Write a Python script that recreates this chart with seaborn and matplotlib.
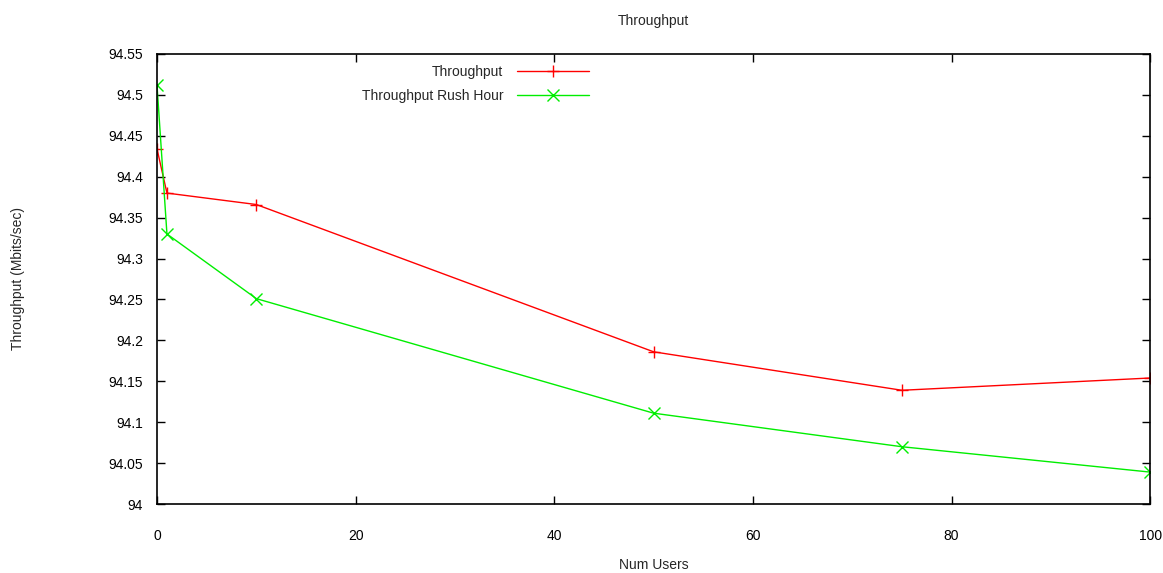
import matplotlib
matplotlib.use("Agg")
import matplotlib.pyplot as plt
import seaborn as sns
import pandas as pd

num_users = [0, 1, 10, 50, 75, 100]
throughput = [94.434, 94.380, 94.366, 94.186, 94.139, 94.154]
throughput_rush = [94.512, 94.330, 94.251, 94.111, 94.070, 94.039]
series_names = ["Throughput", "Throughput Rush Hour"]
x_ticks = [0, 20, 40, 60, 80, 100]
y_ticks = [94, 94.05, 94.1, 94.15, 94.2, 94.25, 94.3, 94.35, 94.4, 94.45, 94.5, 94.55]
y_tick_labels = ["94", "94.05", "94.1", "94.15", "94.2", "94.25", "94.3",
                 "94.35", "94.4", "94.45", "94.5", "94.55"]

df = pd.DataFrame({
    "Num Users": num_users * 2,
    "Throughput": throughput + throughput_rush,
    "Series": [series_names[0]] * len(num_users) + [series_names[1]] * len(num_users),
})

sns.set_style("ticks")
plt.rcParams["font.family"] = ["Liberation Sans", "DejaVu Sans"]

fig = plt.figure(figsize=(11.63, 5.73), dpi=100)
ax = fig.add_axes([0.135, 0.1204, 0.854, 0.7854])

sns.lineplot(data=df, x="Num Users", y="Throughput", hue="Series", style="Series",
             markers={series_names[0]: "+", series_names[1]: "x"}, dashes=False,
             palette={series_names[0]: "#ff0000", series_names[1]: "#00ee00"},
             linewidth=1.0, markersize=8, markeredgewidth=1.0, ax=ax)
for ln in ax.get_lines():
    ln.set_markeredgecolor(ln.get_color())

ax.set_xlim(0, 100)
ax.set_ylim(94, 94.55)
ax.set_xticks(x_ticks)
ax.set_xticklabels([str(t) for t in x_ticks])
ax.set_yticks(y_ticks)
ax.set_yticklabels(y_tick_labels)
ax.tick_params(direction="in", length=6, width=1, colors="black", labelsize=10,
               top=True, right=True, pad=10)
ax.tick_params(axis="x", pad=18)
for s in ax.spines.values():
    s.set_visible(True)
    s.set_color("black")
    s.set_linewidth(1.2)

ax.set_xlabel("Num Users", fontsize=10, labelpad=11)
ax.set_ylabel("Throughput (Mbits/sec)", fontsize=10, labelpad=60)
ax.set_title("Throughput", fontsize=10, pad=21)

handles, labels = ax.get_legend_handles_labels()
for h in handles:
    h.set_markeredgecolor(h.get_color())
leg = ax.legend(handles, labels, loc="upper right", bbox_to_anchor=(0.448, 1.003),
                frameon=False, markerfirst=False, handlelength=5.2,
                fontsize=10, labelspacing=0.7, handletextpad=1.0)

fig.savefig("out.png", dpi=100, facecolor="white")
